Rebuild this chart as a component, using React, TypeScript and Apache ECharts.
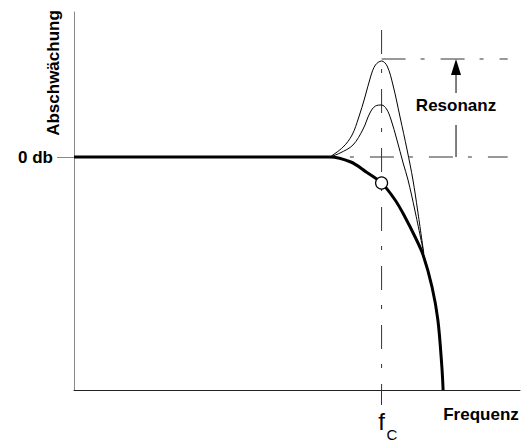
import React, { useEffect, useRef } from "react";
import * as echarts from "echarts";

// x: frequency relative to the cut-off frequency fC (fC = 1)
// y: attenuation in dB-like units (0 = "0 db")
const FONT = '"Liberation Sans", Arial, Helvetica, sans-serif';

const yLabels = ["0 db"];
const yLabelValues = [0];
const fcValue = 1.0;

// thick curve: damped low-pass (no resonance)
const thickCurve: (number | string)[][] = [
  [0, 0], [0.7, 0], [0.832, 0], [0.9, -0.5], [0.95, -1.5], [1.0, -2.6],
  [1.044, -4.3], [1.076, -6.0], [1.109, -8.0], [1.135, -9.8], [1.164, -13.0],
  [1.183, -16.3], [1.196, -21.0], [1.2, -23.3],
];

// thin curve with high resonance peak
const highPeakCurve: (number | string)[][] = [
  [0.832, 0], [0.875, 1.0], [0.904, 2.2], [0.925, 3.9], [0.946, 6.0], [0.965, 8.1],
  [0.98, 9.2], [1.0, 9.6], [1.018, 9.1], [1.037, 7.2], [1.06, 4.0], [1.083, 0.7],
  [1.102, -2.3], [1.117, -5.3], [1.137, -9.6],
];

// thin curve with lower resonance peak
const lowPeakCurve: (number | string)[][] = [
  [0.832, 0], [0.865, 0.4], [0.907, 1.2], [0.94, 2.8], [0.962, 4.4], [0.98, 5.1],
  [1.0, 5.2], [1.016, 4.8], [1.03, 3.8], [1.05, 1.7], [1.07, -0.6], [1.086, -2.3],
  [1.108, -5.3], [1.137, -9.6],
];

const cutoffPoint: number[][] = [[1.0, -2.6]];

// guide lines (dash-dot)
const fcGuide: number[][] = [[1.0, 12.7], [1.0, -23.3]];
const peakGuide: number[][] = [[1.0, 9.8], [1.41, 9.8]];
const zeroGuide: number[][] = [[0.832, 0], [1.41, 0]];

// resonance arrow (shaft with gap for label, head)
const arrowShaft: (number | string)[][] = [[1.242, 0], [1.242, 3.2], [1.242, "-"], [1.242, 6.4], [1.242, 9.0]];
const arrowHead: number[][] = [[1.242, 9.0]];

const dashDot = [24, 15, 4, 16];

export default function App() {
  const ref = useRef<HTMLDivElement>(null);
  useEffect(() => {
    if (!ref.current) return;
    const chart = echarts.init(ref.current, null, { renderer: "svg" });
    const guide = (data: any[], offset: number) => ({
      type: "line",
      data,
      symbol: "none",
      silent: true,
      clip: false,
      z: 1,
      lineStyle: { color: "#333", width: 1, type: dashDot, dashOffset: offset },
    });
    const curve = (data: any[], width: number, z: number) => ({
      type: "line",
      data,
      symbol: "none",
      smooth: 0.35,
      z,
      lineStyle: { color: "#000", width },
    });
    const txt = (text: string, x: number, y: number, font: string, extra: any = {}) => ({
      type: "text",
      x,
      y,
      z: 100,
      ...extra,
      style: {
        text,
        font,
        fill: "#000",
        align: "center",
        verticalAlign: "middle",
        textAlign: "center",
        textVerticalAlign: "middle",
      },
    });
    chart.setOption({
      animation: false,
      backgroundColor: "#fff",
      textStyle: { fontFamily: FONT },
      grid: { left: 74, top: 12, width: 446, height: 378, containLabel: false, outerBoundsMode: "none" },
      xAxis: {
        type: "value",
        min: 0,
        max: 1.45,
        axisLine: { show: true, onZero: false, lineStyle: { color: "#222", width: 1 } },
        axisTick: { show: true, customValues: [fcValue], length: 15, lineStyle: { color: "#333" } },
        axisLabel: { show: false },
        splitLine: { show: false },
      },
      yAxis: {
        type: "value",
        min: -23.3,
        max: 14.5,
        axisLine: { show: true, onZero: false, lineStyle: { color: "#888", width: 1 } },
        axisTick: { show: true, customValues: yLabelValues, length: 17, lineStyle: { color: "#888" } },
        axisLabel: {
          show: true,
          customValues: yLabelValues,
          formatter: (v: number) => yLabels[yLabelValues.indexOf(v)] ?? "",
          color: "#000",
          fontWeight: "bold",
          fontSize: 17,
          fontFamily: FONT,
          margin: 21,
        },
        splitLine: { show: false },
      },
      series: [
        guide(fcGuide, 0),
        guide(peakGuide, 0),
        guide(zeroGuide, 19),
        {
          type: "line",
          data: arrowShaft,
          symbol: "none",
          connectNulls: false,
          z: 2,
          lineStyle: { color: "#000", width: 1 },
        },
        {
          type: "scatter",
          data: arrowHead,
          symbol: "triangle",
          symbolSize: [10, 16],
          z: 3,
          itemStyle: { color: "#000", opacity: 1 },
        },
        curve(highPeakCurve, 1, 3),
        curve(lowPeakCurve, 1, 3),
        curve(thickCurve, 3, 4),
        {
          type: "scatter",
          data: cutoffPoint,
          symbol: "circle",
          symbolSize: 12,
          z: 5,
          itemStyle: { color: "#fff", borderColor: "#000", borderWidth: 1.2, opacity: 1 },
        },
      ],
      graphic: [
        txt("Abschwächung", 53, 73, `bold 17px ${FONT}`, { rotation: Math.PI / 2 }),
        txt("Resonanz", 456, 105, `bold 17px ${FONT}`),
        txt("Frequenz", 481, 414, `bold 17px ${FONT}`),
        txt("f", 381.5, 421, `normal 24px ${FONT}`),
        txt("C", 392, 434, `normal 15px ${FONT}`),
      ],
    });
    return () => chart.dispose();
  }, []);
  return (
    <div
      ref={ref}
      style={{ position: "absolute", left: 0, top: 0, width: 528, height: 443, background: "#fff" }}
    />
  );
}
